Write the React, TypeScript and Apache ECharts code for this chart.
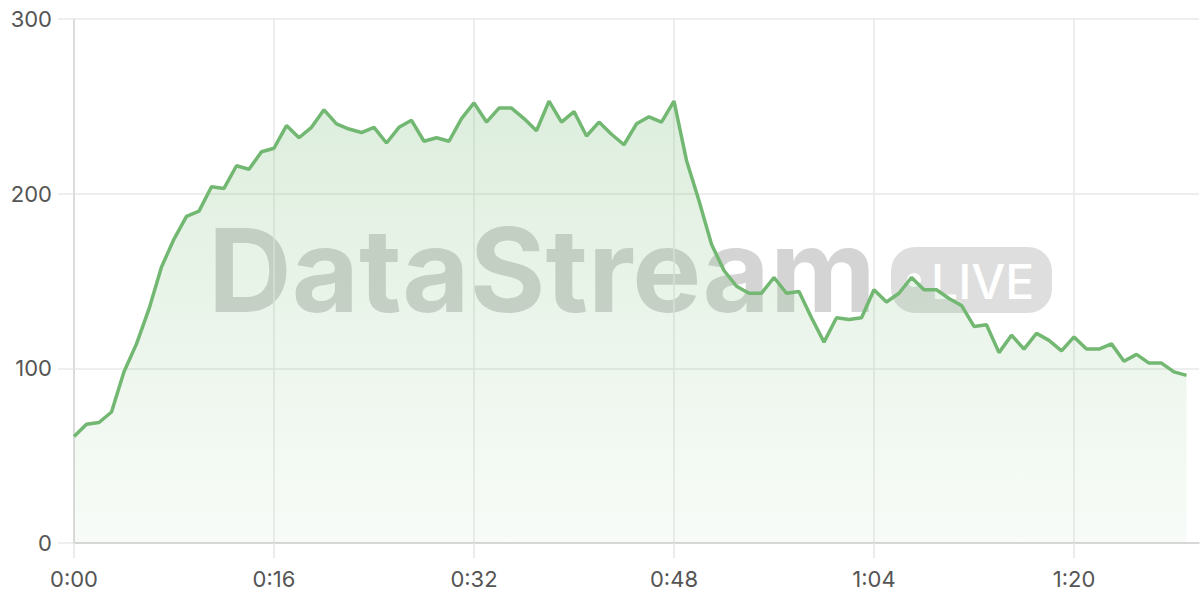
import React, { useEffect, useRef } from "react";
import * as echarts from "echarts";

// One sample per second (0:00 … 1:29)
const values: number[] = [
  61, 68, 69, 75, 98, 114, 134, 158, 174, 187,
  190, 204, 203, 216, 214, 224, 226, 239, 232, 238,
  248, 240, 237, 235, 238, 229, 238, 242, 230, 232,
  230, 243, 252, 241, 249, 249, 243, 236, 253, 241,
  247, 233, 241, 234, 228, 240, 244, 241, 253, 219,
  196, 171, 156, 147, 143, 143, 152, 143, 144, 129,
  115, 129, 128, 129, 145, 138, 143, 152, 145, 145,
  140, 136, 124, 125, 109, 119, 111, 120, 116, 110,
  118, 111, 111, 114, 104, 108, 103, 103, 98, 96,
];

const axisSeconds: number = 91; // category slots 0:00 … 1:30
const yTicks: number[] = [0, 100, 200, 300];

const fmt = (s: number) => `${Math.floor(s / 60)}:${String(s % 60).padStart(2, "0")}`;

export default function App() {
  const ref = useRef<HTMLDivElement>(null);
  useEffect(() => {
    if (!ref.current) return;
    const chart = echarts.init(ref.current, undefined, { renderer: "svg" });
    const categories = Array.from({ length: axisSeconds }, (_, i) => fmt(i));
    const font = "Inter, 'Noto Sans', sans-serif";
    chart.setOption({
      animation: false,
      backgroundColor: "#ffffff",
      grid: { left: 74, right: 1, top: 19, bottom: 57, containLabel: false },
      graphic: [
        {
          type: "text",
          z: 0,
          silent: true,
          x: 208,
          y: 270,
          style: {
            text: "DataStream",
            font: `bold 116px ${font}`,
            fill: "rgba(0,0,0,0.17)",
            verticalAlign: "middle",
            textAlign: "left",
          },
        },
        {
          type: "rect",
          z: 0,
          silent: true,
          shape: { x: 891, y: 247, width: 161, height: 66, r: 24 },
          style: { fill: "rgba(0,0,0,0.13)" },
        },
        {
          type: "circle",
          z: 0,
          silent: true,
          shape: { cx: 914, cy: 280, r: 7 },
          style: { fill: "#ffffff" },
        },
        {
          type: "text",
          z: 0,
          silent: true,
          x: 931,
          y: 281,
          style: {
            text: "LIVE",
            font: `500 48px ${font}`,
            fill: "#ffffff",
            verticalAlign: "middle",
            textAlign: "left",
          },
        },
      ],
      xAxis: {
        type: "category",
        boundaryGap: false,
        data: categories,
        axisLine: { show: true, lineStyle: { color: "#cfcfcf", width: 1.5 } },
        axisTick: { show: true, interval: 15, length: 15, lineStyle: { color: "#e6e6e6", width: 1.5 } },
        splitLine: { show: true, interval: 15, lineStyle: { color: "#e8e8e8", width: 1.5 } },
        axisLabel: { interval: 15, margin: 25, fontSize: 22, color: "#555555", fontFamily: font },
      },
      yAxis: {
        type: "value",
        min: yTicks[0],
        max: yTicks[yTicks.length - 1],
        interval: 100,
        axisLine: { show: true, lineStyle: { color: "#d4d4d4", width: 1.5 } },
        axisTick: { show: true, length: 16, lineStyle: { color: "#e8e8e8", width: 1.5 } },
        splitLine: { show: true, lineStyle: { color: "#e8e8e8", width: 1.5 } },
        axisLabel: { margin: 22, fontSize: 22, color: "#555555", fontFamily: font },
      },
      series: [
        {
          type: "line",
          data: values,
          showSymbol: false,
          symbol: "none",
          z: 3,
          lineStyle: { color: "#72b872", width: 3.5 },
          areaStyle: {
            color: new echarts.graphic.LinearGradient(0, 0, 0, 1, [
              { offset: 0, color: "rgba(114,184,114,0.34)" },
              { offset: 1, color: "rgba(114,184,114,0.07)" },
            ]),
          },
        },
      ],
    });
    return () => chart.dispose();
  }, []);
  return (
    <div
      ref={ref}
      style={{ position: "fixed", left: 0, top: 0, width: 1200, height: 600 }}
    />
  );
}
